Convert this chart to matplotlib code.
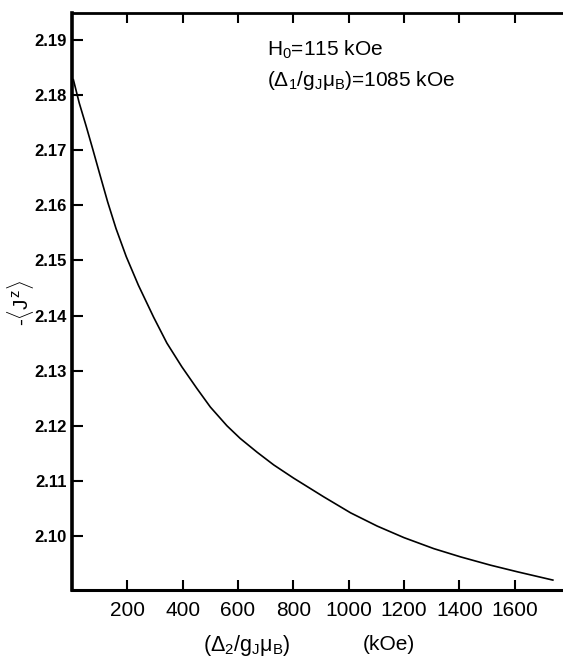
import matplotlib
matplotlib.use("Agg")
import matplotlib.pyplot as plt

plt.rcParams['font.family'] = ['Liberation Sans', 'DejaVu Sans']
plt.rcParams['mathtext.fontset'] = 'custom'
plt.rcParams['mathtext.rm'] = 'Liberation Sans'
plt.rcParams['mathtext.it'] = 'Liberation Sans'
plt.rcParams['mathtext.bf'] = 'Liberation Sans:bold'

# Data
delta2 = [5, 26, 51, 75, 99, 129, 159, 196, 240, 295, 343, 397, 451, 500, 560, 608, 669,
          729, 801, 910, 1007, 1103, 1200, 1308, 1405, 1513, 1610, 1738]
jz = [2.1828, 2.1786, 2.1744, 2.1702, 2.1659, 2.1606, 2.1558, 2.1507, 2.1455, 2.1397,
      2.1350, 2.1307, 2.1268, 2.1234, 2.1200, 2.1177, 2.1152, 2.1129, 2.1105, 2.1071,
      2.1042, 2.1018, 2.0997, 2.0977, 2.0962, 2.0947, 2.0935, 2.0920]
xticks = [200, 400, 600, 800, 1000, 1200, 1400, 1600]
yticks = [2.10, 2.11, 2.12, 2.13, 2.14, 2.15, 2.16, 2.17, 2.18, 2.19]
ytick_labels = ['2.10', '2.11', '2.12', '2.13', '2.14', '2.15', '2.16', '2.17', '2.18', '2.19']

W, H = 563, 656
fig = plt.figure(figsize=(W / 100, H / 100), dpi=100)
ax = fig.add_axes([72 / W, (H - 590) / H, (W - 72) / W + 0.01, (590 - 13) / H])

ax.plot(delta2, jz, color='black', lw=1.2)
ax.set_xlim(0, 1795)
ax.set_ylim(2.0902, 2.1949)

ax.set_xticks(xticks)
ax.set_xticklabels([str(t) for t in xticks], fontsize=15)
ax.set_yticks(yticks)
ax.set_yticklabels(ytick_labels, fontsize=12, fontweight='bold')

ax.tick_params(axis='x', direction='in', length=7, width=1.5, top=True, pad=8)
ax.tick_params(axis='y', direction='in', length=8, width=1.5, pad=4)
ax.spines['right'].set_visible(False)
ax.spines['left'].set_linewidth(2.6)
ax.spines['bottom'].set_linewidth(2.2)
ax.spines['top'].set_linewidth(2.0)

x0 = (267 - 72) / ((W - 72) / W + 0.01) / W
ax.text(x0, (590 - 50) / (590 - 13), r'H$_0$=115 kOe',
        transform=ax.transAxes, fontsize=15, va='center', ha='left')
ax.text(x0, (590 - 80) / (590 - 13),
        r'($\Delta_{\mathregular{1}}$/g$_J\mu_B$)=1085 kOe',
        transform=ax.transAxes, fontsize=15, va='center', ha='left')

fig.text(203 / W, 1 - 645 / H, r'($\Delta_2$/g$_J\mu_B$)', fontsize=15.5, va='center', ha='left')
fig.text(363 / W, 1 - 645 / H, '(kOe)', fontsize=15, va='center', ha='left')
fig.text(21 / W, 1 - 303 / H, r'-$\langle J^z\rangle$', fontsize=15, rotation=90,
         va='center', ha='center')

fig.savefig('out.png', dpi=100)
